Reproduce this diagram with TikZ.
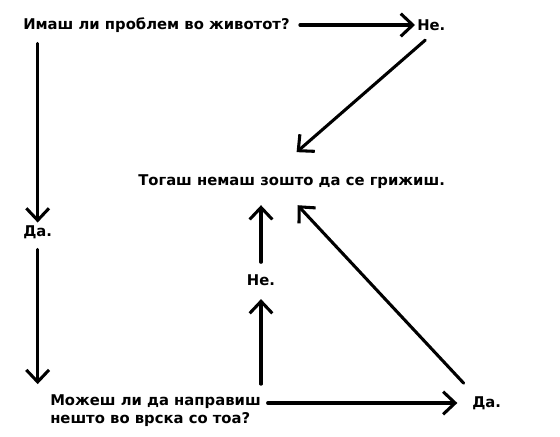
\documentclass[tikz,border=0pt]{standalone}
\usepackage{fontspec}
\setmainfont{DejaVu Sans}
\usetikzlibrary{arrows.meta,positioning}

\begin{document}
\begin{tikzpicture}[x=0.75pt,y=-0.75pt,
	txt/.style={font=\fontsize{11.1}{13.5}\selectfont\bfseries, inner sep=0pt, align=left},
	arrow/.style={-{Straight Barb[length=9pt,width=17pt]}, line width=2.3pt, line cap=round}
	]
	\useasboundingbox (0,0) rectangle (560,436);
	\node[txt, anchor=west] (q1) at (23,25) {Имаш ли проблем во животот?};
	\node[txt, anchor=west] (ne1) at (417,25) {Не.};
	\node[txt, anchor=west] (res) at (138,182) {Тогаш немаш зошто да се грижиш.};
	\node[txt, anchor=west] (da1) at (23,232) {Да.};
	\node[txt, anchor=west] (q2) at (50,411) {Можеш ли да направиш\\нешто во врска со тоа?};
	\node[txt, anchor=west] (da2) at (472,403) {Да.};
	\node[txt] (ne2) at (261,280) {Не.};
	% first question
	\draw[arrow, shorten <=7.5pt, shorten >=1.5pt] (q1) -- (ne1);
	\draw[arrow] ([xshift=-4.5pt,yshift=-7pt]ne1.south) -- ([xshift=3.75pt,yshift=17pt]res.north);
	\draw[arrow, shorten <=8pt, shorten >=2pt] (q1.south -| da1) -- (da1.north);
	\draw[arrow, shorten <=8pt, shorten >=8pt] (da1.south) -- (da1.south |- q2.north);
	% second question
	\draw[arrow, shorten <=5pt, shorten >=11pt] (q2.east |- da2) -- (da2.west);
	\draw[arrow, shorten <=8pt, shorten >=10pt] (q2.north -| ne2) -- (ne2.south);
	\draw[arrow, shorten <=9pt, shorten >=12pt] (ne2.north) -- (ne2 |- res.south);
	\draw[arrow] ([xshift=-17.25pt,yshift=9.75pt]da2.north) -- ([xshift=4.5pt,yshift=-12pt]res.south);
\end{tikzpicture}
\end{document}
